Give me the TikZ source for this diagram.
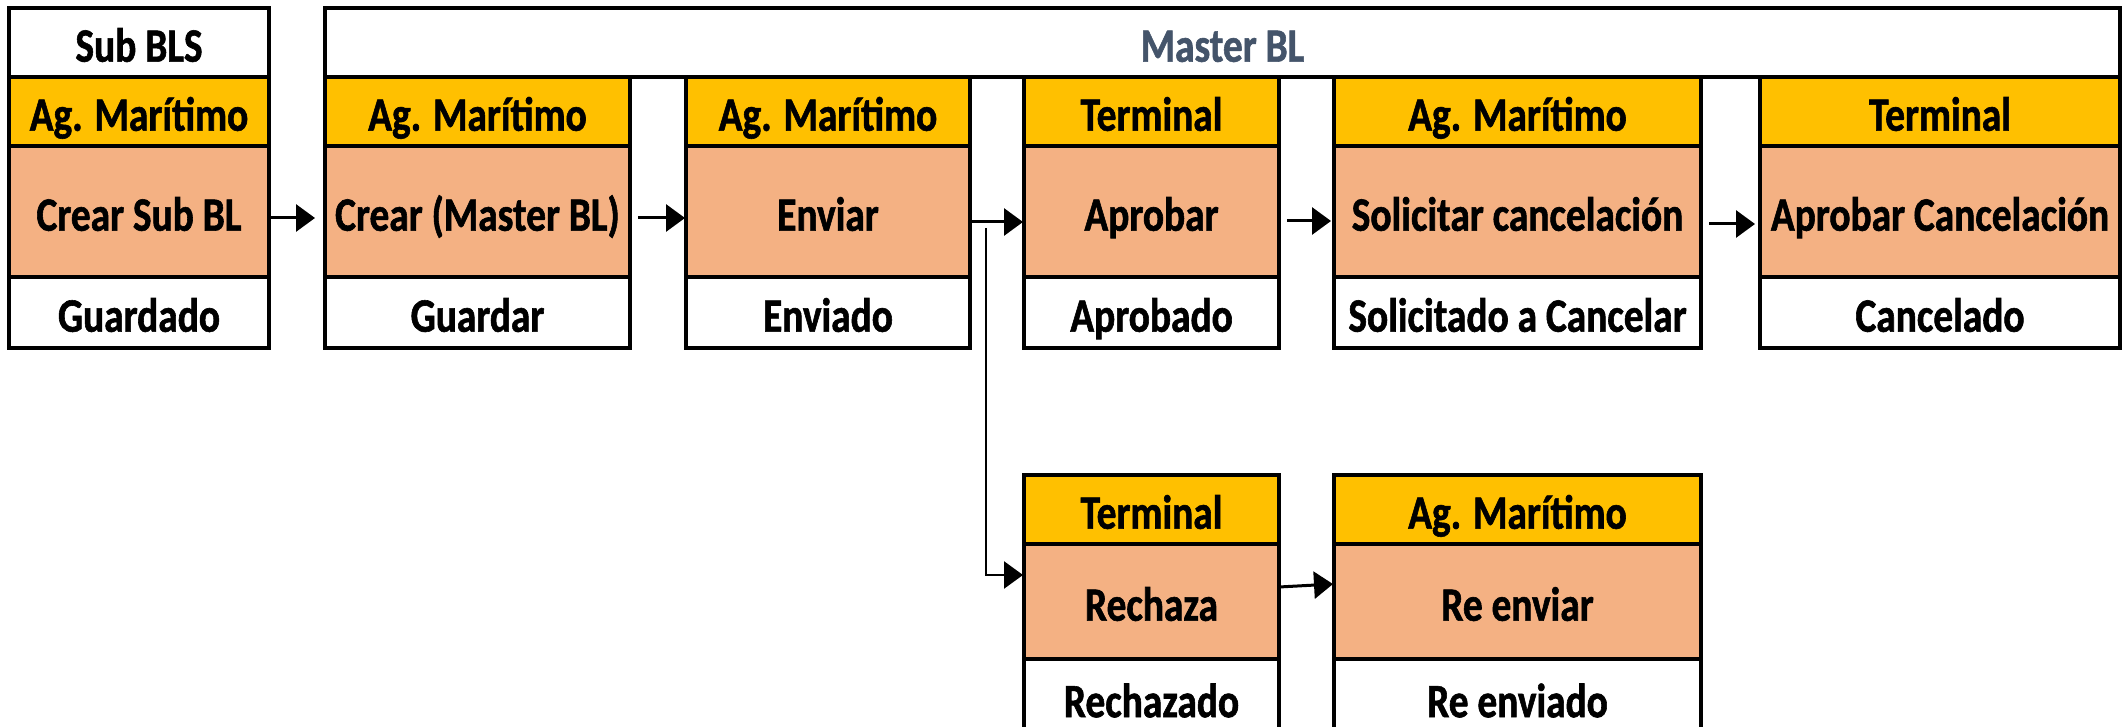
\documentclass[tikz,border=0pt]{standalone}
\usepackage{fontspec}
\setmainfont{Carlito}[FakeStretch=0.82, BoldFeatures={FakeBold=1.2}]
\usetikzlibrary{arrows.meta}
\definecolor{hdr}{HTML}{FFC000}
\definecolor{act}{HTML}{F4B183}
\definecolor{mtxt}{HTML}{44546A}
\tikzset{
  cellbase/.style={draw=black, line width=2pt, inner sep=0pt, outer sep=0pt,
    font=\fontsize{24}{28}\selectfont\bfseries, text height=19.2pt, text depth=0pt, align=center},
  whitecell/.style={cellbase, fill=white},
  yelcell/.style={cellbase, fill=hdr},
  orgcell/.style={cellbase, fill=act},
  arr/.style={line width=1.5pt, -{Triangle[length=9.5pt,width=13.5pt]}},
  branch/.style={line width=1.2pt, -{Triangle[length=9.5pt,width=13.5pt]}}
}
% style, name, x1, y1, x2, y2, text  (pixel coordinates)
\newcommand{\cellnode}[7]{%
  \node[#1, minimum width={(#5-#3)*0.5pt}, minimum height={(#6-#4)*0.5pt}]
    (#2) at ({(#3+#5)/2},{(#4+#6)/2}) {#7};}
% column: prefix, x1, x2, ytop, yh, ym, header, action, state
\newcommand{\column}[9]{%
  \cellnode{yelcell}{#1h}{#2}{#4}{#3}{#5}{#7}
  \cellnode{orgcell}{#1m}{#2}{#5}{#3}{#6}{#8}
  \cellnode{whitecell}{#1s}{#2}{#6}{#3}{#6+71}{#9}}
\begin{document}
\begin{tikzpicture}[x=0.5pt,y=-0.5pt]
\path[use as bounding box, clip] (0,0) rectangle (2122,727);

% Sub BLS column
\cellnode{whitecell}{subt}{9}{8}{269}{77}{Sub BLS}
\column{sub}{9}{269}{77}{146}{277}{Ag. Marítimo}{Crear Sub BL}{Guardado}

% Master BL header
\cellnode{whitecell}{mast}{325}{8}{2120}{77}{\textcolor{mtxt}{Master BL}}

% Master columns
\column{ca}{325}{630}{77}{146}{277}{Ag. Marítimo}{Crear (Master BL)}{Guardar}
\column{cb}{686}{970}{77}{146}{277}{Ag. Marítimo}{Enviar}{Enviado}
\column{cc}{1024}{1279}{77}{146}{277}{Terminal}{Aprobar}{Aprobado}
\column{cd}{1334}{1701}{77}{146}{277}{Ag. Marítimo}{Solicitar cancelación}{Solicitado a Cancelar}
\column{ce}{1760}{2120}{77}{146}{277}{Terminal}{Aprobar Cancelación}{Cancelado}

% Bottom branch
\cellnode{yelcell}{bah}{1024}{475}{1279}{544}{Terminal}
\cellnode{orgcell}{bam}{1024}{544}{1279}{659}{Rechaza}
\cellnode{whitecell}{bas}{1024}{659}{1279}{737}{Rechazado}
\cellnode{yelcell}{bbh}{1334}{475}{1701}{544}{Ag. Marítimo}
\cellnode{orgcell}{bbm}{1334}{544}{1701}{659}{Re enviar}
\cellnode{whitecell}{bbs}{1334}{659}{1701}{737}{Re enviado}

% Connectors
\draw[arr, shorten <=0.5pt, shorten >=5pt] ([yshift=-3.25pt]subm.east) -- ([yshift=-3.25pt]cam.west);
\draw[arr, shorten <=4pt, shorten >=0.5pt] ([yshift=-3.25pt]cam.east) -- ([yshift=-3.25pt]cbm.west);
\draw[arr, shorten >=0.5pt] ([yshift=-5.25pt]cbm.east) -- ([yshift=-5.25pt]ccm.west);
\draw[arr, shorten <=4pt, shorten >=1.5pt] ([yshift=-4.75pt]ccm.east) -- ([yshift=-4.75pt]cdm.west);
\draw[arr, shorten <=4pt, shorten >=2.5pt] ([yshift=-6.25pt]cdm.east) -- ([yshift=-6.25pt]cem.west);
\coordinate (br) at ([xshift=8pt,yshift=-8.25pt]cbm.east);
\draw[branch, shorten >=0.5pt] (br) |- ([yshift=13.25pt]bam.west);
\draw[arr, shorten >=0.5pt] ([yshift=7.25pt]bam.east) -- ([yshift=8.75pt]bbm.west);
\end{tikzpicture}
\end{document}
